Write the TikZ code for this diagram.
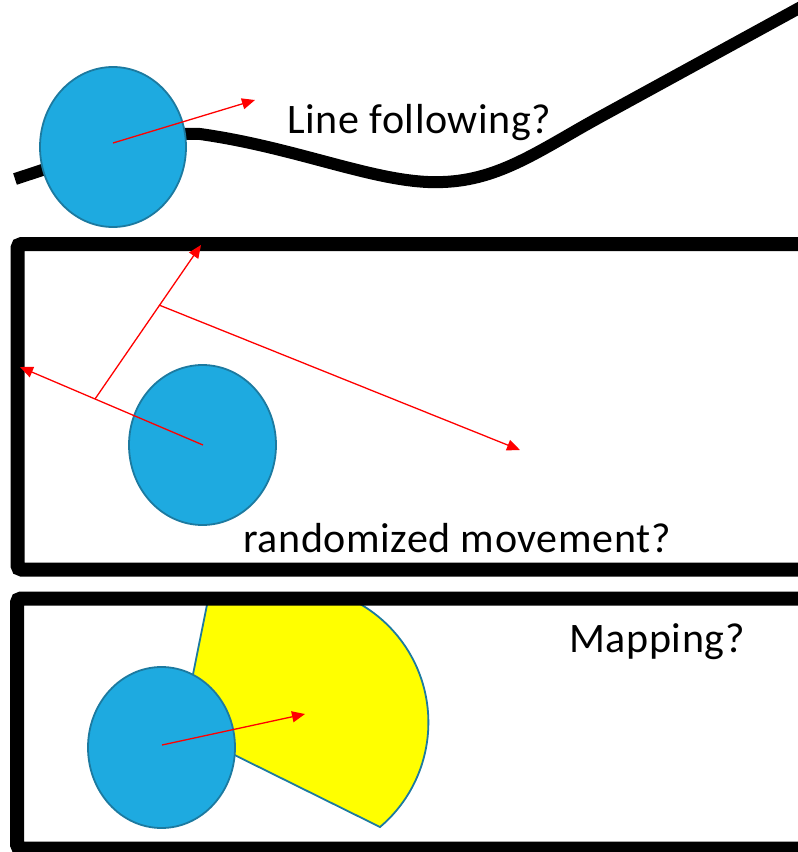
\documentclass[tikz,border=0pt]{standalone}
\usepackage{fontspec}
\setmainfont[LetterSpace=1.5]{Carlito}
\usetikzlibrary{arrows.meta}
\definecolor{robotblue}{RGB}{30,170,224}
\definecolor{robotrand}{RGB}{28,122,160}
\definecolor{sensor}{RGB}{255,255,0}
\tikzset{>={Triangle[length=13pt,width=11pt]}}

\begin{document}
\begin{tikzpicture}[x=1pt,y=-1pt,
	robot/.style={draw=robotrand, fill=robotblue, line width=1.8pt},
	heading/.style={red, line width=1.3pt},
	arena/.style={draw=black, line width=14pt, rounded corners=4pt},
	label/.style={inner sep=0pt, anchor=base west, font=\fontsize{42}{44}\selectfont}]

	\useasboundingbox (0,0) rectangle (798,852);
	\clip (0,0) rectangle (798,852);

	% line following
	\draw[line width=12pt] (15,179) .. controls (80,158) and (150,131) .. (200,134) .. controls (300,148) and (380,185) .. (443,182) .. controls (500,180) and (540,150) .. (600,117) -- (812,1);
	\draw[robot] (113,147) ellipse (73 and 80);
	\coordinate (c1) at (113,143);
	\coordinate (h1) at (255,100);
	\draw[heading,->] (c1) -- (h1);
	\node[label] (t1) at (287,133) {Line following?};

	% randomized movement
	\draw[arena] (17.5,244) rectangle (805,569.5);
	\draw[robot] (202.5,445) ellipse (73.5 and 80);
	\coordinate (c2) at (203,445);
	\coordinate (w1) at (20,367);
	\coordinate (b1) at (95,399);
	\coordinate (w2) at (201,245);
	\coordinate (b2) at (159,305);
	\coordinate (w3) at (520,450);
	\draw[heading,->] (c2) -- (w1);
	\draw[heading,->] (b1) -- (w2);
	\draw[heading,->] (b2) -- (w3);
	\node[label] (t2) at (243,552) {randomized movement?};

	% mapping
	\begin{scope}
		\clip (17,598) rectangle (805,849);
		\draw[draw=robotrand, fill=sensor, line width=1.8pt] (182,729) -- (380,827) arc[start angle=49.7, end angle=-66, radius=137] -- (213,575) -- cycle;
	\end{scope}
	\draw[arena] (17,598.5) rectangle (805,848.5);
	\draw[robot] (161.5,747.5) ellipse (73.5 and 80.5);
	\coordinate (c3) at (162,745);
	\coordinate (h3) at (305,714);
	\draw[heading,->] (c3) -- (h3);
	\node[label] (t3) at (569,652) {Mapping?};

\end{tikzpicture}
\end{document}
